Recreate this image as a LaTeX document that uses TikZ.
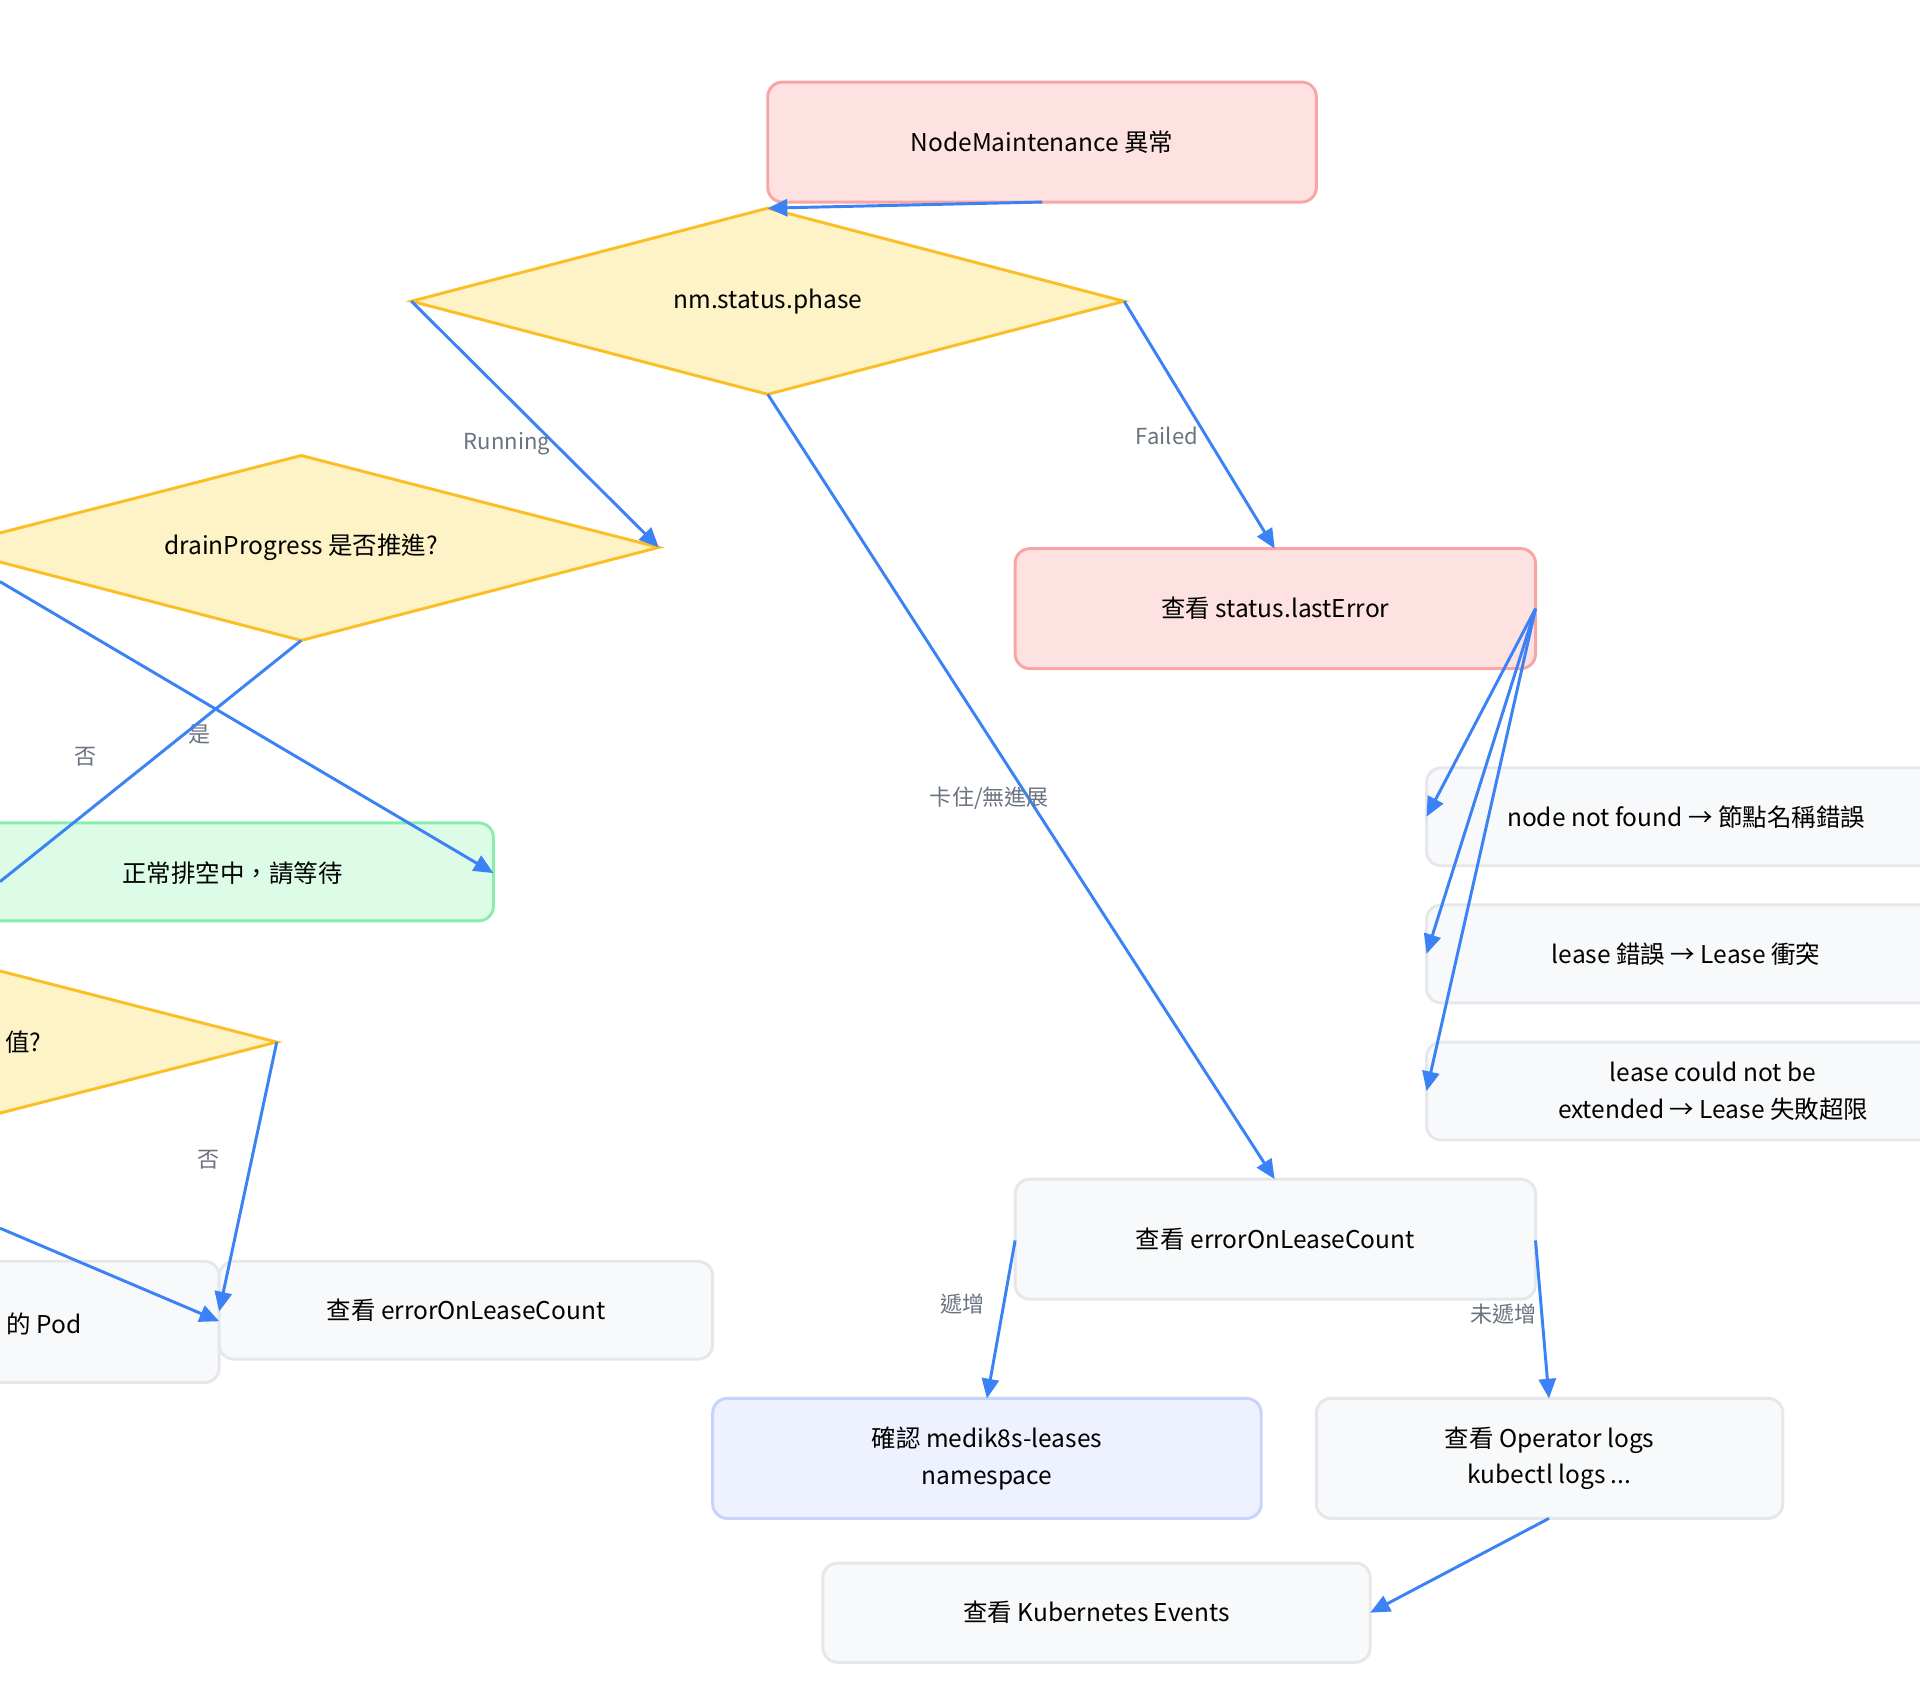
\documentclass[tikz,border=0pt]{standalone}
\usepackage{fontspec}
\setmainfont{Noto Sans CJK TC}
\usetikzlibrary{arrows.meta}
\definecolor{pinkf}{HTML}{FEE2E2}\definecolor{pinkd}{HTML}{F8A5A5}
\definecolor{yelf}{HTML}{FEF3C7}\definecolor{yeld}{HTML}{FBBF24}
\definecolor{grnf}{HTML}{DCFCE7}\definecolor{grnd}{HTML}{86EFAC}
\definecolor{gryf}{HTML}{F8F9FA}\definecolor{gryd}{HTML}{E5E7EB}
\definecolor{bluf}{HTML}{EEF2FF}\definecolor{blud}{HTML}{C7D2FE}
\definecolor{edge}{HTML}{3B82F6}\definecolor{lab}{HTML}{6B7280}
\begin{document}
\begin{tikzpicture}[x=0.5pt,y=-0.5pt,
 box/.style={draw, rounded corners=6pt, line width=1.2pt, inner sep=0pt, align=center, font=\fontsize{10}{15}\selectfont},
 pink/.style={box, fill=pinkf, draw=pinkd},
 gry/.style={box, fill=gryf, draw=gryd},
 grn/.style={box, fill=grnf, draw=grnd},
 blu/.style={box, fill=bluf, draw=blud},
 dia/.style={fill=yelf, draw=yeld, line width=1.2pt},
 txt/.style={font=\fontsize{10}{15}\selectfont, inner sep=0pt},
 e/.style={draw=edge, line width=1.2pt, -{Triangle[length=8pt,width=7pt]}},
 l/.style={font=\fontsize{9}{11}\selectfont, text=lab, inner sep=1pt}]
\useasboundingbox (0,0) rectangle (1568,1389);
\clip (0,0) rectangle (1568,1389);
% boxes
\node[pink, minimum width=224pt, minimum height=49pt] (top) at (851,116) {NodeMaintenance 異常};
\node[pink, minimum width=212.5pt, minimum height=49pt] (le) at (1041.5,497) {查看 status.lastError};
\node[grn, minimum width=230pt, minimum height=40pt] (grn) at (173,712) {};
\node[txt] at (190,713) {正常排空中，請等待};
\node[gry, minimum width=230pt, minimum height=49.5pt] (pod) at (-51,1079.5) {};
\node[txt, anchor=east] at (67,1081) {的 Pod};
\node[gry, minimum width=201.5pt, minimum height=40pt] (eol) at (380.5,1070) {查看 errorOnLeaseCount};
\node[gry, minimum width=230pt, minimum height=40pt] (r1) at (1395,667) {};
\node[txt] at (1377,667) {node not found → 節點名稱錯誤};
\node[gry, minimum width=230pt, minimum height=40pt] (r2) at (1395,779) {};
\node[txt] at (1377,779) {lease 錯誤 → Lease 衝突};
\node[gry, minimum width=230pt, minimum height=40pt] (r3) at (1395,891) {};
\node[txt, align=center] at (1399,891) {lease could not be\\extended → Lease 失敗超限};
\node[gry, minimum width=212.5pt, minimum height=49pt] (eoc) at (1041.5,1012) {查看 errorOnLeaseCount};
\node[blu, minimum width=224pt, minimum height=49pt] (ns) at (806,1191) {確認 medik8s-leases\\namespace};
\node[gry, minimum width=190.5pt, minimum height=49pt] (op) at (1265.5,1191) {查看 Operator logs\\kubectl logs ...};
\node[gry, minimum width=223.5pt, minimum height=40.5pt] (ev) at (895.5,1317) {查看 Kubernetes Events};
% diamonds
\draw[dia] (336,246) coordinate (pL) -- (627,170) coordinate (pT) -- (918,246) coordinate (pR) -- (627,322) coordinate (pB) -- cycle;
\node[txt] (phase) at (627,246) {nm.status.phase};
\draw[dia] (-46,447) -- (246,372) -- (538,447) coordinate (dR) -- (246,523) coordinate (dB) -- cycle;
\node[txt] (drain) at (246,447) {drainProgress 是否推進?};
\draw[dia] (-358,851) -- (-66,776) -- (226,851) coordinate (vR) -- (-66,926) -- cycle;
\node[txt, anchor=east] (val) at (34,851) {值?};
\coordinate (dlo) at (0,475);
\coordinate (dlo2) at (0,720);
\coordinate (vlo) at (0,1003);
% edges
\draw[e] (851,165) -- (pT);
\draw[e] (pL) -- (dR);
\node[l] at (414,362) {Running};
\draw[e] (pR) -- (1041,448);
\node[l] at (953,356) {Failed};
\draw[e] (pB) -- (1041,963);
\node[l] at (808,652) {卡住/無進展};
\draw[e] (dlo) -- (403,713);
\node[l] at (163,600) {是};
\draw[draw=edge, line width=1.2pt] (dB) -- (dlo2);
\node[l] at (70,618) {否};
\draw[e] (vR) -- (179,1071);
\node[l] at (170,947) {否};
\draw[e] (vlo) -- (179,1079);
\draw[e] (1254,497) -- (1165,667);
\draw[e] (1254,497) -- (1165,779);
\draw[e] (1254,497) -- (1165,891);
\draw[e] (829,1013) -- (806,1142);
\node[l] at (786,1065) {遞增};
\draw[e] (1254,1013) -- (1265,1142);
\node[l] at (1228,1073) {未遞增};
\draw[e] (1265,1240) -- (1119,1317);
\end{tikzpicture}
\end{document}
